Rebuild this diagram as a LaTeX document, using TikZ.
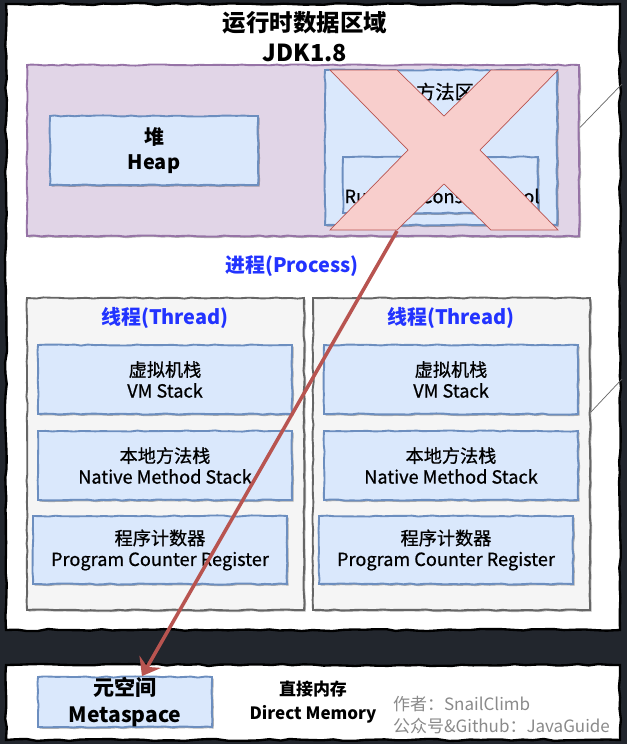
\documentclass[tikz,border=0pt]{standalone}
\usepackage{fontspec}
\setmainfont{Noto Sans CJK SC}
\newfontfamily\medium{Noto Sans CJK SC}[FakeBold=0.7]
\usetikzlibrary{arrows.meta,calc,shadows,decorations.pathmorphing}
\definecolor{night}{HTML}{22262D}
\definecolor{bluefill}{HTML}{DAE8FC}
\definecolor{blueline}{HTML}{6C8EBF}
\definecolor{lilac}{HTML}{E1D5E7}
\definecolor{lilacline}{HTML}{9673A6}
\definecolor{greyfill}{HTML}{F5F5F5}
\definecolor{greyline}{HTML}{666666}
\definecolor{rosefill}{HTML}{F8CECC}
\definecolor{roseline}{HTML}{B85450}
\definecolor{procblue}{HTML}{2233FF}
\definecolor{note}{HTML}{8A8A8A}
\tikzset{
  wh/.style 2 args={minimum width=#1*0.03cm, minimum height=#2*0.03cm, inner sep=0pt},
  rough/.style={decorate, decoration={random steps, segment length=6pt, amplitude=0.5pt}},
  shade/.style={drop shadow={shadow xshift=1.4pt, shadow yshift=-1.4pt, opacity=0.3, fill=black}},
  panel/.style={rectangle, fill=white, draw=black, line width=2pt, decorate,
    decoration={random steps, segment length=9pt, amplitude=0.9pt}},
  area/.style={rectangle, fill=lilac, draw=lilacline, line width=1.6pt, rough, shade},
  memo/.style={rectangle, fill=bluefill, draw=blueline, line width=1.6pt, rough, shade, align=center},
  thread/.style={rectangle, fill=greyfill, draw=greyline, line width=1.6pt, rough, shade},
  cross/.style={fill=rosefill, draw=roseline, line width=0.6pt},
  arr/.style={-{Stealth[length=14pt, width=21pt, inset=5pt]}, line width=3pt, draw=roseline},
  link/.style={draw=greyline, line width=0.6pt},
  big/.style={font=\fontsize{17pt}{22pt}\selectfont\bfseries},
  small/.style={font=\medium\fontsize{15.5pt}{18pt}\selectfont},
  bluetitle/.style={text=procblue, font=\fontsize{17pt}{20pt}\selectfont\bfseries}
}

\begin{document}
\begin{tikzpicture}[x=0.03cm, y=-0.03cm]
  \fill[night] (0,0) rectangle (627,744);
  \useasboundingbox (0,0) rectangle (627,744);
  % white panels
  \node[panel, wh={614}{626}] (rtpanel) at (313,317) {};
  \node[panel, wh={614}{75}] (nativepanel) at (313,702.5) {};
  \node[align=center, font=\fontsize{20pt}{25.5pt}\selectfont\bfseries] (title) at (305,37) {运行时数据区域\\JDK1.8};
  % shared area
  \node[area, wh={552}{171}] (shared) at (303,150.5) {};
  \node[memo, wh={208}{69}, big] (heap) at (154,150.5) {堆\\Heap};
  \node[memo, wh={232}{155}] (method) at (441,147.5) {};
  \node[align=center, font=\medium\fontsize{16.5pt}{22pt}\selectfont] (methodtxt) at (445,104) {方法区\\Method Area};
  \node[memo, wh={195}{56}] (pool) at (440.5,185) {};
  \node[small] (pooltxt) at (442,196) {Runtime Constant Pool};
  \draw[cross] (330,70) -- (397,70) -- (444,116) -- (491,70) -- (558,70) -- (480,150)
    -- (558,230) -- (491,230) -- (444,184) -- (397,230) -- (330,230) -- (408,150) -- cycle;
  \node[bluetitle] (proc) at (292,266) {进程(Process)};
  % threads
  \foreach \i/\x in {1/0, 2/286} {
    \node[thread, wh={277}{312}] (thread\i) at (165.5+\x,454) {};
    \node[bluetitle] (ttl\i) at (165+\x,318) {线程(Thread)};
    \node[memo, wh={254}{69}, small] (vm\i) at (165+\x,379.5) {虚拟机栈\\VM Stack};
    \node[memo, wh={254}{69}, small] (nms\i) at (165+\x,465.5) {本地方法栈\\Native Method Stack};
    \node[memo, wh={254}{68}, small] (pc\i) at (160+\x,550) {程序计数器\\Program Counter Register};
  }
  % native memory
  \node[memo, wh={174}{50}, font=\fontsize{18pt}{23pt}\selectfont\bfseries] (meta) at (125,702) {元空间\\Metaspace};
  \node[align=center, font=\fontsize{14.5pt}{20pt}\selectfont\bfseries] (direct) at (313,702) {直接内存\\Direct Memory};
  \node[align=left, anchor=west, text=note, font=\fontsize{14.5pt}{18pt}\selectfont] (author) at (389,715) {作者：SnailClimb\\公众号\&Github：JavaGuide};
  % connectors
  \coordinate (e1) at (622,84);
  \coordinate (e2) at (622,379);
  \coordinate (xfoot) at (397,231);
  \draw[link] ([yshift=0.69cm]shared.east) -- (e1);
  \draw[link] ([yshift=1.26cm]thread2.east) -- (e2);
  \draw[arr] (xfoot) -- ([xshift=0.51cm]meta.north);
\end{tikzpicture}
\end{document}
